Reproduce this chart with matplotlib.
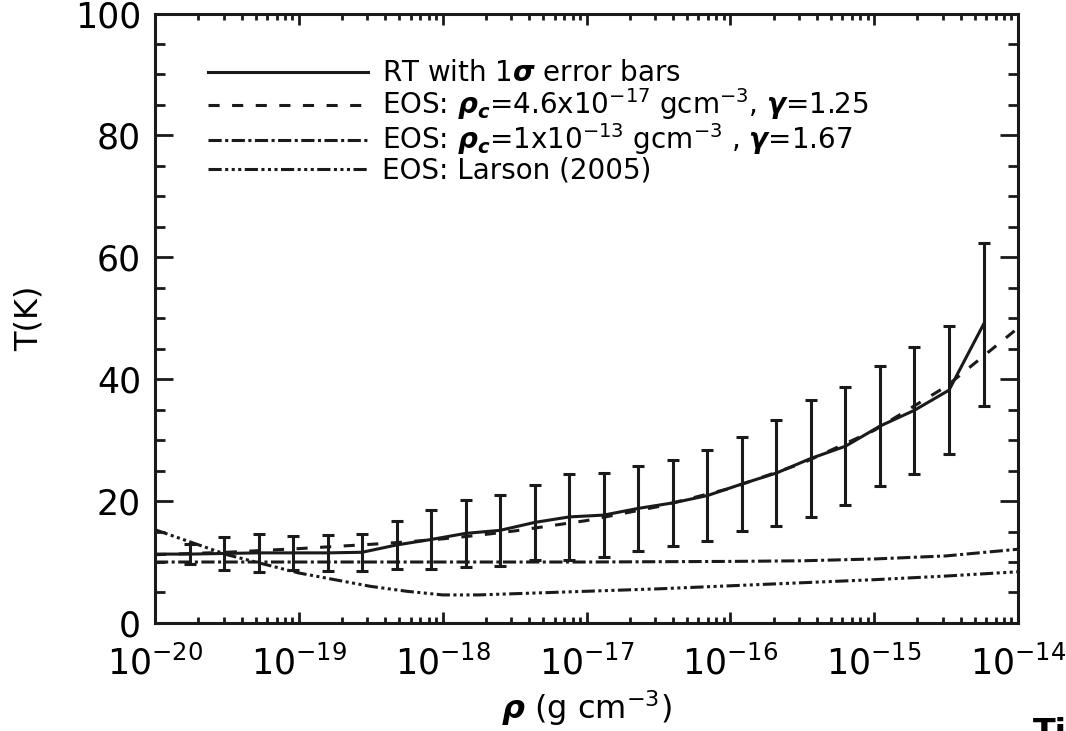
import numpy as np
import matplotlib
matplotlib.use("Agg")
import matplotlib.pyplot as plt
from matplotlib.ticker import MultipleLocator, LogLocator, NullFormatter

plt.rcParams['font.family'] = ['DejaVu Sans']
plt.rcParams['mathtext.fontset'] = 'custom'
plt.rcParams['mathtext.rm'] = 'DejaVu Sans'
plt.rcParams['mathtext.it'] = 'DejaVu Sans:italic:bold'
plt.rcParams['mathtext.bf'] = 'DejaVu Sans:bold'
plt.rcParams['lines.scale_dashes'] = False

# RT results (log10 density, mean temperature, 1 sigma)
log_rho_rt = [-19.76, -19.52, -19.28, -19.04, -18.80, -18.56, -18.32, -18.08,
              -17.84, -17.60, -17.36, -17.12, -16.88, -16.64, -16.40, -16.16,
              -15.92, -15.68, -15.44, -15.20, -14.96, -14.72, -14.48, -14.24]
T_rt = [11.3, 11.4, 11.5, 11.5, 11.5, 11.6, 12.8, 13.7,
        14.7, 15.2, 16.5, 17.4, 17.7, 18.8, 19.7, 20.9,
        22.8, 24.6, 27.0, 29.0, 32.3, 34.9, 38.2, 49.0]
T_rt_err = [1.65, 2.65, 3.1, 2.75, 3.0, 3.0, 4.0, 4.9,
            5.5, 5.8, 6.2, 7.05, 6.9, 6.95, 7.05, 7.5,
            7.75, 8.65, 9.65, 9.7, 9.9, 10.45, 10.45, 13.4]
# line starts at the left edge
log_rho_line0 = -20.0
T_line0 = 11.3

# EOS curves
log_rho_eos = [-20.0, -19.5, -19.0, -18.5, -18.25, -18.0, -17.75, -17.5, -17.0,
               -16.5, -16.0, -15.5, -15.0, -14.5, -14.0]
T_eos_125 = [11.2, 11.6, 12.2, 12.9, 13.3, 13.8, 14.4, 15.1, 16.8,
             19.1, 22.1, 26.2, 31.6, 38.8, 48.4]
T_eos_167 = [10.0, 10.0, 10.0, 10.0, 10.0, 10.0, 10.0, 10.0, 10.0,
             10.05, 10.1, 10.2, 10.5, 11.0, 12.1]
T_larson = [15.3, 11.2, 8.2, 6.0, 5.2, 4.6, 4.6, 4.8, 5.2,
            5.6, 6.1, 6.6, 7.1, 7.7, 8.4]

labels = [r"RT with 1$\sigma$ error bars",
          r"EOS: $\rho_c$=4.6x10$^{-17}$ gcm$^{-3}$, $\gamma$=1.25",
          r"EOS: $\rho_c$=1x10$^{-13}$ gcm$^{-3}$ , $\gamma$=1.67",
          r"EOS: Larson (2005)"]

rho_rt = 10.0 ** np.array(log_rho_rt)
rho_eos = 10.0 ** np.array(log_rho_eos)

fig = plt.figure(figsize=(10.66, 7.31), dpi=100)
ax = fig.add_axes([0.1454, 0.1478, 0.8096, 0.8337])

ink = '#1a1a1a'
lw = 2.2
ax.plot(np.r_[10.0 ** log_rho_line0, rho_rt], np.r_[T_line0, T_rt],
        color=ink, lw=lw, label=labels[0])
ax.errorbar(rho_rt, T_rt, yerr=T_rt_err, fmt='none', ecolor=ink,
            elinewidth=2.2, capsize=4, capthick=2.2)
ax.plot(rho_eos, T_eos_125, color=ink, lw=lw,
        linestyle=(0, (8, 9)), label=labels[1])
ax.plot(rho_eos, T_eos_167, color=ink, lw=lw,
        linestyle=(0, (9.5, 2.5, 2.2, 2.5)), label=labels[2])
ax.plot(rho_eos, T_larson, color=ink, lw=lw,
        linestyle=(0, (9.5, 2.5, 2.2, 2.5, 2.2, 2.5, 2.2, 2.5)), label=labels[3])

ax.set_xscale('log')
ax.set_xlim(1e-20, 1e-14)
ax.set_ylim(0, 100)
ax.set_xticks([1e-20, 1e-19, 1e-18, 1e-17, 1e-16, 1e-15, 1e-14])
ax.xaxis.set_minor_locator(LogLocator(base=10, subs=np.arange(2, 10)))
ax.xaxis.set_minor_formatter(NullFormatter())
ax.yaxis.set_major_locator(MultipleLocator(20))
ax.yaxis.set_minor_locator(MultipleLocator(5))

for s in ax.spines.values():
    s.set_linewidth(2.2)
    s.set_color(ink)
ax.tick_params(which='both', direction='in', top=True, right=True,
               color=ink, width=2.0)
ax.tick_params(axis='x', which='major', length=8, labelsize=25, pad=16)
ax.tick_params(axis='x', which='minor', length=4)
ax.tick_params(axis='y', which='major', length=13, labelsize=25, pad=10)
ax.tick_params(axis='y', which='minor', length=7)

ax.set_xlabel(r"$\rho$ (g cm$^{-3}$)", fontsize=23, labelpad=5)
ax.set_ylabel("T(K)", fontsize=23, labelpad=22)

ax.legend(loc='upper left', bbox_to_anchor=(0.0614, 0.925), frameon=False,
          fontsize=20, handlelength=5.75, handletextpad=0.5,
          labelspacing=-0.03, borderaxespad=0, borderpad=0)

fig.text(1033 / 1066, 1 - 717 / 731, "Ti", fontsize=24, fontweight='bold',
         ha='left', va='top')

fig.savefig("out.png", dpi=100)
